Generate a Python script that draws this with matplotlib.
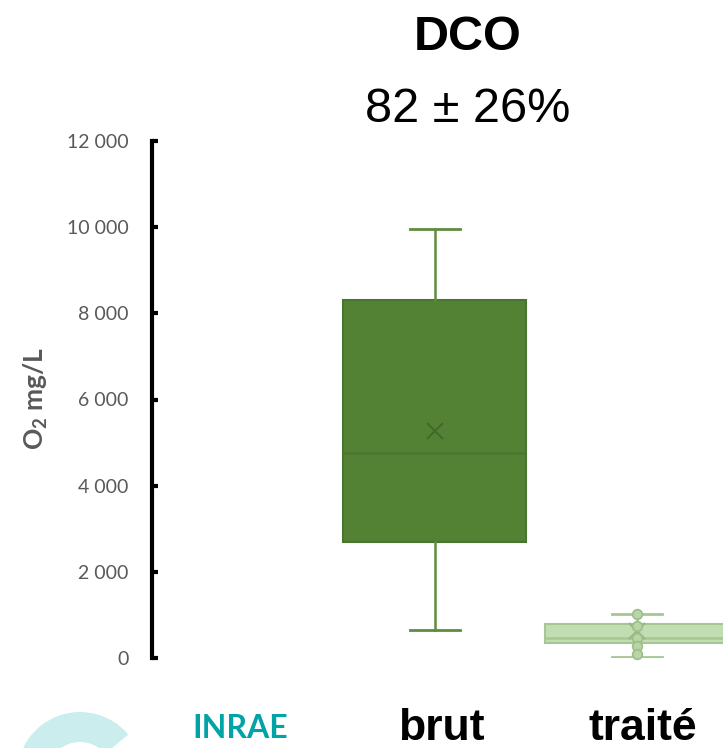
import matplotlib
matplotlib.use("Agg")
import matplotlib.pyplot as plt
from matplotlib.patches import Wedge
from matplotlib.transforms import IdentityTransform

# values (O2 mg/L)
categories = ["brut", "traité"]
whis_low = [650, 30]
q1 = [2700, 350]
median = [4750, 465]
q3 = [8300, 790]
whis_high = [9950, 1010]
means = [5270, 630]
traite_points = [1030, 740, 465, 280, 95]
yticks = [0, 2000, 4000, 6000, 8000, 10000, 12000]
ytick_labels = ["0", "2 000", "4 000", "6 000", "8 000", "10 000", "12 000"]

plt.rcParams["mathtext.fontset"] = "custom"
plt.rcParams["mathtext.rm"] = "Lato:bold"
plt.rcParams["mathtext.bf"] = "Lato:bold"

dark = "#548235"
dark_edge = "#4A7530"
light = "#C2DDB2"
light_edge = "#A6C794"

fig = plt.figure(figsize=(7.23, 7.48), dpi=100)
ax = fig.add_axes([152/723, 90/748, 1 - 152/723, 517/748])

stats = []
for i in range(len(categories)):
    stats.append({"whislo": whis_low[i], "q1": q1[i], "med": median[i],
                  "q3": q3[i], "whishi": whis_high[i], "mean": means[i]})

bp = ax.bxp(stats, positions=[1, 2], widths=0.906, capwidths=0.25,
            patch_artist=True, showfliers=False, showmeans=True)
box_cols = [(dark, dark_edge), (light, light_edge)]
for i, (fc, ec) in enumerate(box_cols):
    bp["boxes"][i].set(facecolor=fc, edgecolor=ec, linewidth=1.5)
    bp["medians"][i].set(color=ec, linewidth=1.8)
    for w in bp["whiskers"][2*i:2*i+2]:
        w.set(color=ec if i else "#5E8C40", linewidth=1.8)
    for c in bp["caps"][2*i:2*i+2]:
        c.set(color=ec if i else "#5E8C40", linewidth=2)
    bp["means"][i].set(marker="x", markersize=11, markeredgewidth=1.5,
                       markeredgecolor="#44692B" if i == 0 else "#96B884",
                       markerfacecolor="none")

ax.plot([2]*len(traite_points), traite_points, "o", markersize=7,
        markerfacecolor="#B7D5A5", markeredgecolor="#9CBE8A",
        markeredgewidth=1.2, clip_on=False, zorder=5)

ax.set_xlim(-0.401, 2.426)
ax.set_ylim(0, 12000)
for s in ["top", "right", "bottom"]:
    ax.spines[s].set_visible(False)
ax.spines["left"].set_linewidth(3)
ax.spines["left"].set_color("black")

ax.set_yticks(yticks)
ax.set_yticklabels(ytick_labels, fontfamily="Lato", fontsize=14, color="#595959")
ax.tick_params(axis="y", direction="in", length=4, width=3, pad=17)
ax.set_xticks([1.03, 2.03])
ax.set_xticklabels(categories, fontfamily=["Liberation Sans Narrow", "Liberation Sans"],
                   fontweight="bold", fontsize=32)
ax.tick_params(axis="x", length=0, pad=36)

fig.text(36/723, 1 - 398/748, r"O$_2$ mg/L", rotation=90, ha="center", va="center",
         fontfamily="Lato", fontweight="bold", fontsize=19, color="#595959")

fig.text(468/723, 1 - 50/748, "DCO", ha="center", va="baseline",
         fontfamily="Liberation Sans", fontweight="bold", fontsize=35)
fig.text(468/723, 1 - 122/748, "82 ± 26%", ha="center", va="baseline",
         fontfamily="Liberation Sans", fontsize=35)

# logo bits in the lower left corner
fig.patches.append(Wedge((80, -27), 63, 40, 320, width=30, facecolor="#CBEDED",
                         edgecolor="none", transform=IdentityTransform()))
fig.text(192/723, 1 - 738/748, "INRAE", ha="left", va="baseline",
         fontfamily="Lato", fontweight="bold", fontsize=23, color="#00A3A6")

fig.savefig("out.png", dpi=100)
